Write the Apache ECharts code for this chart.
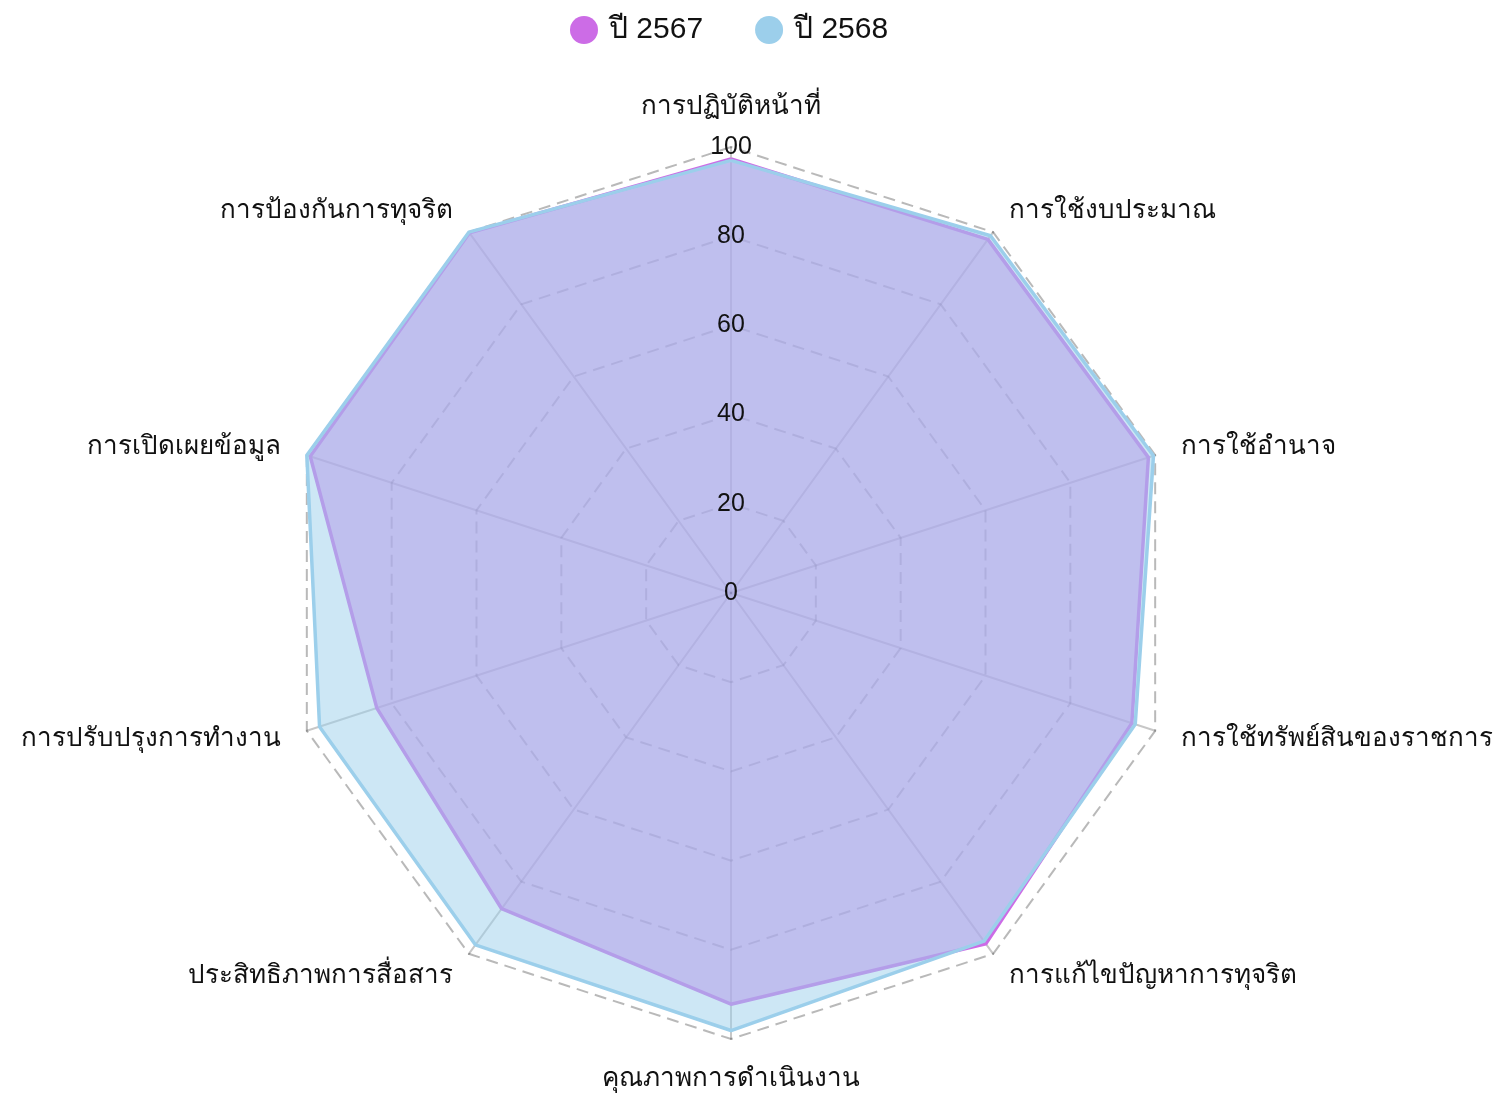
<!DOCTYPE html>
<html>
<head>
<meta charset="utf-8">
<script src="https://cdn.jsdelivr.net/npm/echarts@6/dist/echarts.min.js"></script>
<style>
html,body{margin:0;padding:0;background:#fff;}
#chart{width:1504px;height:1102px;}
</style>
</head>
<body>
<div id="chart"></div>
<script>
// Indicators in ECharts radar order (counter-clockwise from top)
const indicatorNames = [
  'การปฏิบัติหน้าที่',
  'การป้องกันการทุจริต',
  'การเปิดเผยข้อมูล',
  'การปรับปรุงการทำงาน',
  'ประสิทธิภาพการสื่อสาร',
  'คุณภาพการดำเนินงาน',
  'การแก้ไขปัญหาการทุจริต',
  'การใช้ทรัพย์สินของราชการ',
  'การใช้อำนาจ',
  'การใช้งบประมาณ'
];
const seriesNames = ['ปี 2567', 'ปี 2568'];
const values2567 = [97.3, 99.8, 99.2, 83.5, 87.5, 92.2, 97.2, 94.5, 98.4, 98.0];
const values2568 = [97.0, 100, 100, 97.0, 97.5, 98.1, 96.5, 95.3, 99.6, 99.0];
const axisMax = 100;

const chart = echarts.init(document.getElementById('chart'), null, {renderer: 'canvas'});
const font = '"Liberation Sans", Arial, sans-serif';
const center = [731, 593];
const radius = 446;

const baseIndicators = indicatorNames.map(n => ({name: n, max: axisMax, min: 0}));
const labelIndicators = indicatorNames.map((n, i) => ({
  name: n, max: axisMax, min: 0,
  axisLabel: i === 0 ? {
    show: true, color: '#111', fontSize: 25, fontFamily: font,
    margin: 0, align: 'center', verticalAlign: 'middle'
  } : {show: false}
}));

chart.setOption({
  animation: false,
  backgroundColor: '#fff',
  legend: {
    top: 10,
    left: 565,
    data: seriesNames,
    icon: 'circle',
    itemWidth: 28,
    itemHeight: 28,
    itemGap: 52,
    textStyle: {fontSize: 30, color: '#111', fontFamily: font, padding: [0, 0, 0, 6]}
  },
  radar: [{
    z: 0,
    center: center,
    radius: radius,
    startAngle: 90,
    splitNumber: 5,
    shape: 'polygon',
    indicator: baseIndicators,
    nameGap: 27,
    axisName: {color: '#111', fontSize: 26, fontFamily: font},
    axisLine: {lineStyle: {color: 'rgba(0,0,0,0.22)', width: 2}},
    splitLine: {lineStyle: {color: 'rgba(100,100,100,0.45)', type: [12, 7], width: 2}},
    splitArea: {show: false},
    axisTick: {show: false},
    axisLabel: {show: false}
  }, {
    z: 10,
    center: center,
    radius: radius,
    startAngle: 90,
    splitNumber: 5,
    shape: 'polygon',
    indicator: labelIndicators,
    axisName: {show: false},
    axisLine: {show: false},
    splitLine: {show: false},
    splitArea: {show: false},
    axisTick: {show: false}
  }],
  series: [{
    type: 'radar',
    radarIndex: 0,
    z: 2,
    symbol: 'none',
    data: [
      {
        name: seriesNames[0], value: values2567,
        lineStyle: {color: '#cc6ce6', width: 3.5},
        itemStyle: {color: '#cc6ce6'},
        areaStyle: {color: '#cc6ce6', opacity: 0.55}
      },
      {
        name: seriesNames[1], value: values2568,
        lineStyle: {color: '#9ccfeb', width: 3.5},
        itemStyle: {color: '#9ccfeb'},
        areaStyle: {color: '#9ccfeb', opacity: 0.5}
      }
    ]
  }]
});
</script>
</body>
</html>
